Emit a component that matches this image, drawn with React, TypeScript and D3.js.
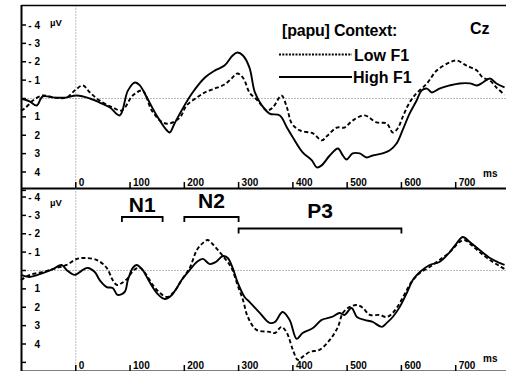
import * as d3 from "d3";

// time (ms) and amplitude (µV, negative up)
const topTimeHigh = [-101, -85, -72, -61, -39, -20, 2, 26, 44, 63, 81, 96, 109, 118, 131, 149, 168, 173, 182, 195, 214, 238, 256, 274, 289, 298, 308, 320, 330, 343, 357, 376, 389, 400, 418, 435, 444, 453, 468, 483, 492, 499, 510, 523, 536, 547, 565, 578, 591, 602, 615, 628, 637, 647, 656, 670, 689, 707, 726, 739, 750, 763, 775, 790];
const topHigh = [0, 0.16, 0.38, -0.11, -0.05, -0.05, -0.16, 0, 0.22, 0.49, 0.92, -0.43, -0.87, -0.71, -0.05, 0.92, 1.74, 1.85, 1.36, 0.65, -0.27, -1.14, -1.52, -1.79, -2.34, -2.5, -2.34, -1.68, -0.33, 0.38, 0.82, 0.92, 1.58, 2.12, 2.93, 3.37, 3.75, 3.64, 3.1, 2.72, 3.1, 3.32, 2.99, 2.99, 3.21, 3.1, 2.99, 2.83, 2.45, 1.74, 0.82, 0.11, -0.43, -0.54, -0.33, -0.54, -0.71, -0.82, -0.82, -0.71, -0.87, -1.09, -0.82, -0.6];

const topTimeLow = [-101, -94, -79, -61, -39, -17, -2, 13, 26, 44, 68, 85, 105, 123, 140, 160, 173, 192, 204, 223, 238, 256, 274, 287, 298, 309, 320, 335, 352, 363, 379, 389, 398, 413, 437, 453, 464, 481, 495, 510, 532, 554, 573, 584, 593, 602, 612, 624, 647, 665, 689, 702, 720, 739, 750, 763, 775, 790];
const topLow = [0.65, 0.54, 0.11, -0.16, -0.05, -0.05, -0.43, -0.71, -0.33, 0.11, 0.49, 0.65, -0.16, -0.43, 0.65, 1.3, 1.36, 1.03, 0.38, -0.05, -0.33, -0.54, -0.76, -1.09, -1.36, -1.09, -0.33, 0.11, 0.65, 0.49, -0.16, 0.49, 1.36, 1.74, 1.9, 2.28, 2.01, 1.58, 1.58, 1.2, 0.92, 1.3, 1.36, 1.85, 1.63, 1.03, 0.38, -0.16, -0.82, -1.52, -1.96, -2.07, -1.79, -1.52, -1.14, -0.98, -0.6, -0.2];

const botTimeHigh = [-101, -85, -61, -42, -26, -17, -2, 13, 22, 35, 44, 57, 68, 77, 90, 96, 105, 112, 123, 136, 151, 164, 177, 186, 195, 210, 223, 234, 247, 258, 271, 280, 289, 298, 311, 320, 339, 357, 367, 381, 394, 407, 418, 437, 453, 472, 486, 495, 508, 518, 532, 547, 564, 573, 584, 597, 610, 621, 634, 652, 670, 689, 702, 713, 726, 744, 763, 781, 790];
const botHigh = [0.24, 0.35, 0.14, -0.08, -0.3, -0.03, 0.24, -0.03, -0.14, 0.08, 0.52, 0.9, 0.95, 1.33, 1.17, 0.52, -0.14, -0.3, -0.03, 0.63, 1.28, 1.55, 1.33, 0.95, 0.52, -0.03, -0.46, -0.63, -0.35, -0.46, -0.79, -0.68, -0.14, 0.63, 1.44, 1.71, 2.31, 2.85, 2.8, 2.26, 2.69, 3.72, 3.4, 3.13, 2.69, 2.53, 2.31, 2.42, 2.04, 2.53, 2.69, 2.8, 3.07, 2.85, 2.53, 1.98, 1.22, 0.52, 0.08, -0.3, -0.46, -1.0, -1.49, -1.82, -1.55, -1.11, -0.68, -0.41, -0.3];

const botTimeLow = [-101, -85, -61, -35, -17, 2, 17, 39, 57, 68, 76, 85, 96, 107, 118, 129, 142, 155, 168, 181, 195, 210, 223, 234, 243, 252, 262, 274, 287, 298, 308, 317, 333, 357, 367, 379, 389, 400, 409, 418, 431, 449, 468, 483, 492, 505, 518, 529, 542, 560, 573, 584, 597, 610, 621, 634, 652, 670, 689, 707, 716, 729, 744, 763, 781, 790];
const botLow = [0.52, 0.24, 0.08, -0.14, -0.3, -0.63, -0.68, -0.57, -0.14, 0.52, 0.79, 0.68, 0.41, -0.03, -0.14, 0.19, 0.79, 1.22, 1.44, 1.17, 0.52, -0.14, -1.11, -1.49, -1.66, -1.44, -1.11, -0.68, -0.14, 0.79, 1.6, 2.53, 3.23, 3.34, 3.4, 3.07, 3.4, 4.32, 4.86, 4.7, 4.43, 4.32, 3.78, 3.07, 2.31, 1.98, 1.88, 2.04, 2.42, 2.42, 2.53, 2.31, 1.77, 1.06, 0.52, 0.14, -0.19, -0.57, -1.0, -1.55, -1.66, -1.39, -1.0, -0.57, -0.24, -0.08];

const xTickValues = [0, 100, 200, 300, 400, 500, 600, 700];
const yTickValues = [-4, -3, -2, -1, 0, 1, 2, 3, 4, 5];
const yLabelValues = [-4, -3, -2, -1, 1, 2, 3, 4];

const components = [
    { label: "N1", from: 85, to: 160, level: 0 },
    { label: "N2", from: 200, to: 300, level: 0 },
    { label: "P3", from: 300, to: 600, level: 1 },
];

const FONT = "'Liberation Sans', Arial, sans-serif";
const W = 506;
const H = 371;
const LEFT = 21.5;

const xScale = d3.scaleLinear().domain([-100, 700]).range([LEFT, 455.7]);

const panels = [
    { key: "top", top: 5.5, axisY: 188.5, y: d3.scaleLinear().domain([-4, 4]).range([25, 172]), high: [topTimeHigh, topHigh], low: [topTimeLow, topLow], msY: 177, uvY: 26 },
    { key: "bottom", top: 188.5, axisY: 371.5, y: d3.scaleLinear().domain([-4, 4]).range([197, 344]), high: [botTimeHigh, botHigh], low: [botTimeLow, botLow], msY: 362, uvY: 206 },
];

const Panel = ({ p }: { p: (typeof panels)[number] }) => {
    const line = d3
        .line<[number, number]>()
        .x((d) => xScale(d[0]))
        .y((d) => p.y(d[1]))
        .curve(d3.curveCatmullRom.alpha(0.5));
    const zip = (t: number[], v: number[]) => t.map((d, i) => [d, v[i]] as [number, number]);

    return (
        <g>
            {/* zero reference lines */}
            <line x1={LEFT} x2={W} y1={p.y(0)} y2={p.y(0)} stroke="#777" strokeDasharray="1,2" />
            <line x1={xScale(0)} x2={xScale(0)} y1={p.top} y2={p.axisY} stroke="#777" strokeDasharray="1,2" />

            {/* y axis ticks */}
            {yTickValues.map((v) => (
                <line key={v} x1={LEFT} x2={LEFT + 4.5} y1={p.y(v)} y2={p.y(v)} stroke="black" strokeWidth={1.5} />
            ))}
            {yLabelValues.map((v) => (
                <text key={v} x={40} y={p.y(v) + 3.6} textAnchor="end" fontSize={10} fontWeight="bold" fontFamily={FONT}>
                    {v < 0 ? `- ${-v}` : v}
                </text>
            ))}
            <text x={50} y={p.uvY} fontSize={9.5} fontWeight="bold" fontFamily={FONT}>µV</text>

            {/* x axis */}
            <line x1={LEFT} x2={W} y1={p.axisY} y2={p.axisY} stroke="black" strokeWidth={2} />
            {xTickValues.map((t) => (
                <g key={t}>
                    <line x1={xScale(t)} x2={xScale(t)} y1={p.axisY - 6.5} y2={p.axisY} stroke="black" strokeWidth={1.5} />
                    <text x={xScale(t) + 3} y={p.axisY - 2.5} fontSize={10} fontWeight="bold" fontFamily={FONT}>{t}</text>
                </g>
            ))}
            <text x={483} y={p.msY} fontSize={10} fontWeight="bold" fontFamily={FONT}>ms</text>

            {/* waveforms */}
            <path d={line(zip(p.low[0], p.low[1])) ?? ""} fill="none" stroke="black" strokeWidth={1.9} strokeDasharray="4,2.5" />
            <path d={line(zip(p.high[0], p.high[1])) ?? ""} fill="none" stroke="black" strokeWidth={1.9} />
        </g>
    );
};

export default function App() {
    return (
        <svg width={W} height={H} style={{ position: "absolute", left: 0, top: 0, background: "white" }}>
            <rect width={W} height={H} fill="white" />
            {panels.map((p) => (
                <Panel key={p.key} p={p} />
            ))}

            {/* frame */}
            <line x1={LEFT} x2={W} y1={5.5} y2={5.5} stroke="black" strokeWidth={1.6} />
            <line x1={LEFT} x2={LEFT} y1={5} y2={H} stroke="black" strokeWidth={2} />

            {/* legend */}
            <text x={282} y={36} fontSize={16} fontWeight="bold" fontFamily={FONT} letterSpacing={-0.2}>[papu] Context:</text>
            <text x={470} y={34} fontSize={16} fontWeight="bold" fontFamily={FONT}>Cz</text>
            <line x1={279} x2={352} y1={54.5} y2={54.5} stroke="black" strokeWidth={2} strokeDasharray="2,1.3" />
            <text x={354} y={61} fontSize={16} fontWeight="bold" fontFamily={FONT}>Low F1</text>
            <line x1={279} x2={352} y1={77} y2={77} stroke="black" strokeWidth={2} />
            <text x={353} y={83} fontSize={16} fontWeight="bold" fontFamily={FONT}>High F1</text>

            {/* component brackets */}
            {components.map((c) => {
                const yb = c.level === 0 ? 217 : 228.5;
                const x1 = xScale(c.from);
                const x2 = xScale(c.to);
                return (
                    <g key={c.label}>
                        <path d={`M${x1},${yb + 5}V${yb}H${x2}V${yb + 5}`} fill="none" stroke="black" strokeWidth={1.8} />
                        <text x={(x1 + x2) / 2} y={c.level === 0 ? (c.label === "N1" ? 212 : 208) : 218} textAnchor="middle" fontSize={21} fontWeight="bold" fontFamily={FONT}>
                            {c.label}
                        </text>
                    </g>
                );
            })}
        </svg>
    );
}
